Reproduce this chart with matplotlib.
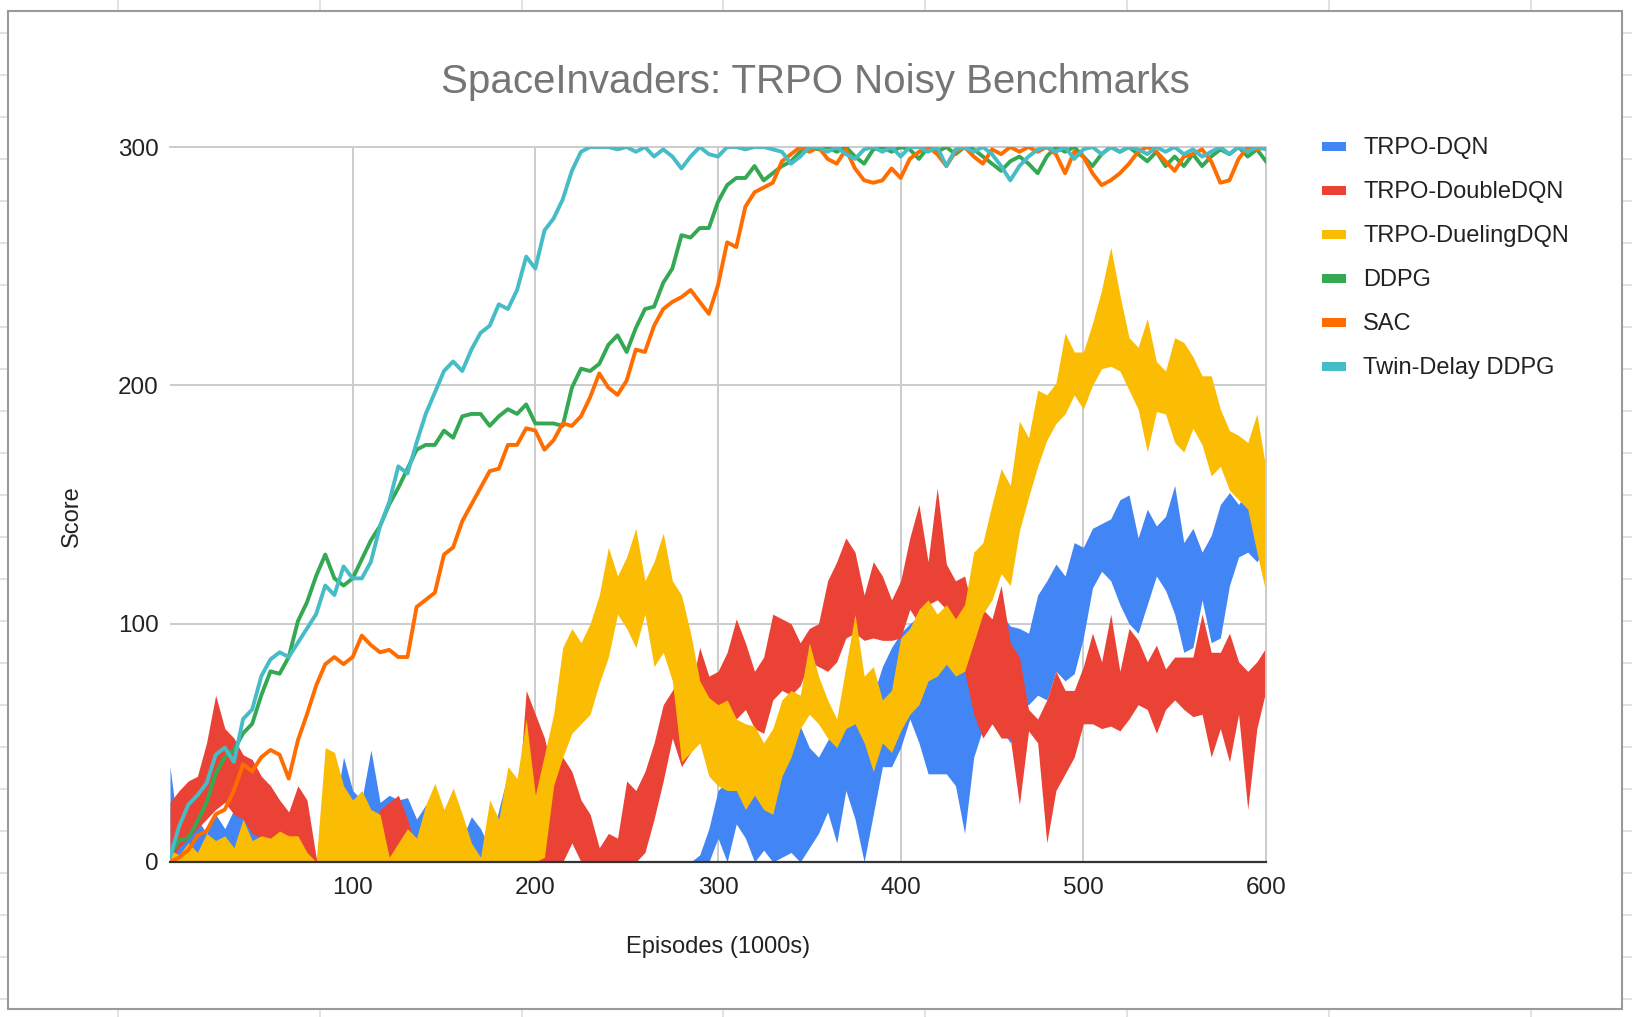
import numpy as np
import matplotlib
matplotlib.use("Agg")
import matplotlib.pyplot as plt
from matplotlib.patches import Rectangle

plt.rcParams["font.family"] = ["Liberation Sans", "DejaVu Sans"]

# ---- data (every 5 episodes, 0..600) ----
episodes = np.arange(0, 601, 5)

# noisy DQN-style runs drawn as bands: (low, high) envelope of the jagged trace
dqn_hi = [40, 10, 15, 18, 12, 20, 14, 22, 27, 20,
          8, 15, 10, 5, 0, 0, 0, 10, 20, 44,
          30, 26, 47, 25, 28, 26, 27, 18, 24, 8,
          12, 6, 10, 19, 14, 6, 22, 37, 12, 8,
          20, 10, 0, 0, 0, 0, 0, 0, 0, 0,
          0, 0, 0, 0, 0, 0, 0, 0, 3, 14,
          30, 34, 30, 42, 38, 36, 42, 46, 52, 57,
          48, 44, 51, 58, 64, 60, 62, 70, 82, 90,
          96, 100, 103, 95, 96, 98, 92, 96, 100, 100,
          102, 104, 99, 98, 96, 112, 118, 125, 120, 134,
          132, 140, 142, 144, 152, 154, 136, 148, 141, 145,
          158, 134, 140, 130, 137, 150, 155, 150, 156, 150,
          140]
dqn_lo = [0] * 60 + [
          10, 0, 16, 10, 0, 5, 0, 2, 4, 0,
          6, 12, 21, 8, 30, 18, 0, 20, 40, 40,
          48, 60, 50, 37, 37, 37, 32, 12, 44, 56,
          58, 56, 50, 68, 66, 70, 68, 80, 76, 79,
          94, 115, 122, 118, 108, 100, 96, 108, 120, 114,
          104, 88, 90, 110, 92, 94, 116, 128, 130, 126,
          132]

double_hi = [25, 30, 34, 36, 50, 70, 56, 52, 45, 43,
             36, 32, 26, 21, 32, 26, 2, 0, 0, 5,
             8, 5, 12, 22, 25, 28, 18, 5, 0, 0,
             0, 0, 0, 0, 0, 5, 0, 5, 20, 72,
             62, 52, 36, 44, 38, 26, 20, 6, 12, 10,
             34, 30, 38, 50, 66, 72, 80, 72, 90, 78,
             80, 88, 102, 92, 80, 86, 104, 102, 100, 92,
             98, 100, 118, 126, 136, 130, 112, 126, 120, 110,
             118, 136, 150, 126, 157, 125, 118, 120, 104, 106,
             102, 116, 92, 86, 64, 60, 68, 80, 72, 72,
             82, 96, 84, 104, 80, 98, 93, 84, 91, 81,
             86, 86, 86, 104, 88, 88, 96, 84, 80, 84,
             90]
double_lo = [0, 6, 10, 14, 18, 22, 25, 20, 18, 12,
             10, 5, 2, 0, 0, 0, 0, 0, 0, 0,
             0, 0, 0, 0, 0, 0, 0, 0, 0, 0,
             0, 0, 0, 0, 0, 0, 0, 0, 0, 0,
             0, 0, 0, 0, 8, 0, 0, 0, 0, 0,
             0, 0, 4, 18, 34, 52, 40, 46, 62, 60,
             58, 66, 60, 64, 56, 54, 68, 72, 70, 74,
             84, 82, 80, 84, 94, 96, 93, 94, 93, 93,
             94, 106, 100, 108, 110, 106, 98, 80, 62, 52,
             58, 52, 52, 24, 55, 50, 8, 30, 37, 44,
             58, 58, 56, 57, 55, 60, 66, 64, 54, 64,
             68, 64, 61, 62, 44, 56, 42, 62, 22, 56,
             72]

dueling_hi = [5, 3, 8, 4, 12, 9, 11, 6, 18, 9,
              11, 10, 13, 11, 11, 4, 0, 48, 46, 32,
              26, 30, 22, 20, 2, 8, 14, 10, 24, 33,
              22, 31, 20, 8, 2, 26, 18, 40, 35, 60,
              28, 45, 62, 90, 98, 92, 100, 112, 132, 120,
              128, 140, 118, 126, 138, 118, 112, 96, 76, 69,
              66, 68, 60, 58, 57, 50, 56, 68, 72, 70,
              92, 78, 68, 60, 82, 104, 78, 82, 68, 72,
              94, 98, 106, 110, 104, 108, 102, 108, 130, 134,
              150, 165, 158, 185, 178, 198, 196, 201, 222, 214,
              214, 226, 240, 258, 238, 220, 216, 228, 210, 206,
              220, 218, 212, 204, 204, 190, 181, 179, 176, 188,
              165]
dueling_lo = [0] * 40 + [
              0, 2, 32, 44, 54, 58, 62, 75, 86, 104,
              98, 90, 104, 82, 88, 76, 42, 46, 50, 36,
              32, 30, 30, 22, 28, 22, 20, 36, 44, 56,
              62, 58, 52, 48, 56, 58, 50, 38, 50, 46,
              55, 62, 66, 76, 78, 83, 78, 80, 92, 104,
              110, 121, 116, 139, 153, 166, 177, 184, 188, 196,
              190, 200, 207, 208, 206, 198, 190, 172, 189, 188,
              176, 172, 182, 175, 162, 166, 156, 152, 148, 130,
              113]

ddpg = [3, 9, 10, 17, 25, 37, 44, 47, 54, 58,
        70, 80, 79, 86, 101, 109, 120, 129, 119, 116,
        119, 127, 135, 141, 150, 157, 165, 173, 175, 175,
        181, 178, 187, 188, 188, 183, 187, 190, 188, 192,
        184, 184, 184, 183, 199, 207, 206, 209, 217, 221,
        214, 224, 232, 233, 243, 249, 263, 262, 266, 266,
        277, 284, 287, 287, 292, 286, 289, 292, 294, 298,
        300, 299, 300, 298, 300, 296, 293, 299, 300, 298,
        300, 299, 295, 300, 298, 300, 297, 300, 299, 296,
        293, 290, 294, 296, 293, 289, 296, 300, 298, 300,
        296, 292, 297, 300, 298, 300, 297, 294, 298, 292,
        296, 292, 297, 292, 296, 299, 297, 300, 296, 299,
        294]

sac = [0, 2, 5, 11, 13, 20, 22, 30, 41, 38,
       44, 47, 45, 35, 51, 62, 74, 83, 86, 83,
       86, 95, 91, 88, 89, 86, 86, 107, 110, 113,
       129, 132, 143, 150, 157, 164, 165, 175, 175, 182,
       181, 173, 177, 184, 183, 187, 195, 205, 199, 196,
       202, 215, 214, 225, 232, 235, 237, 240, 235, 230,
       242, 260, 258, 275, 281, 283, 285, 294, 297, 300,
       298, 300, 295, 293, 299, 291, 286, 285, 286, 291,
       287, 295, 298, 300, 297, 292, 298, 300, 296, 293,
       299, 297, 300, 298, 300, 298, 300, 297, 289, 298,
       296, 289, 284, 286, 289, 293, 298, 300, 298, 294,
       290, 296, 297, 299, 294, 285, 286, 295, 300, 299,
       300]

td3 = [2, 15, 24, 28, 33, 45, 48, 42, 60, 64,
       78, 85, 88, 86, 92, 98, 104, 116, 112, 124,
       119, 119, 126, 141, 151, 166, 163, 176, 188, 197,
       206, 210, 206, 215, 222, 225, 234, 232, 240, 254,
       249, 265, 270, 278, 290, 298, 300, 300, 300, 299,
       300, 298, 300, 296, 299, 296, 291, 296, 300, 297,
       296, 300, 300, 299, 300, 300, 299, 298, 293, 296,
       300, 300, 298, 300, 297, 295, 299, 300, 298, 300,
       296, 300, 300, 298, 300, 292, 299, 300, 298, 300,
       297, 292, 286, 292, 296, 299, 300, 298, 300, 295,
       299, 300, 297, 300, 298, 300, 299, 297, 300, 298,
       300, 297, 299, 296, 298, 300, 297, 300, 298, 300,
       299]

bands = [("TRPO-DQN", dqn_lo, dqn_hi, "#4285F4"),
         ("TRPO-DoubleDQN", double_lo, double_hi, "#EA4335"),
         ("TRPO-DuelingDQN", dueling_lo, dueling_hi, "#FBBC04")]
lines = [("DDPG", ddpg, "#34A853"),
         ("SAC", sac, "#FF6D01"),
         ("Twin-Delay DDPG", td3, "#46BDC6")]

W, H = 1632, 1017
fig = plt.figure(figsize=(W / 100, H / 100), dpi=100)

# spreadsheet backdrop + chart card, in pixel coords
bg = fig.add_axes([0, 0, 1, 1])
bg.set_xlim(0, W)
bg.set_ylim(H, 0)
bg.axis("off")
for x in [118, 320, 522, 723, 925, 1127, 1329, 1531]:
    bg.plot([x, x], [0, H], color="#e2e2e2", lw=1.4, zorder=1)
for y in range(33, H, 42):
    bg.plot([0, W], [y, y], color="#e2e2e2", lw=1.4, zorder=1)
bg.add_patch(Rectangle((8, 11), 1613.5, 997.5, facecolor="white",
                       edgecolor="#9a9a9a", lw=1.5, zorder=3))

bg.text(815, 93, "SpaceInvaders: TRPO Noisy Benchmarks", ha="center",
        va="baseline", fontsize=29, color="#757575", zorder=5)

# legend drawn by hand to match the sheet layout
names = [b[0] for b in bands] + [l[0] for l in lines]
cols = [b[3] for b in bands] + [l[2] for l in lines]
for i, (n, c) in enumerate(zip(names, cols)):
    y = 146.3 + 44 * i
    bg.add_patch(Rectangle((1322, y - 4.5), 24, 9, facecolor=c, lw=0, zorder=5))
    bg.text(1363, y + 8, n, ha="left", va="baseline", fontsize=17,
            color="#222222", zorder=5)

# main plot
ax = fig.add_axes([170 / W, 1 - 862 / H, 1096 / W, 715 / H])
ax.set_facecolor("white")
for name, lo, hi, c in bands:
    ax.fill_between(episodes, lo, hi, color=c, linewidth=0, zorder=2)
for name, vals, c in lines:
    ax.plot(episodes, vals, color=c, lw=2.8, zorder=3)

ax.set_xlim(0, 600)
ax.set_ylim(0, 300)
ax.set_xticks([100, 200, 300, 400, 500, 600])
ax.set_yticks([0, 100, 200, 300])
ax.grid(True, color="#cccccc", lw=1.4)
ax.set_axisbelow(True)
ax.tick_params(length=0, labelsize=17.5, labelcolor="#222222")
ax.tick_params(axis="x", pad=11)
ax.tick_params(axis="y", pad=8)
ax.spines["left"].set_visible(False)
for s in ("top", "right"):
    ax.spines[s].set_color("#cccccc")
    ax.spines[s].set_linewidth(1.4)
ax.spines["bottom"].set_color("#333333")
ax.spines["bottom"].set_linewidth(1.6)
ax.spines["bottom"].set_zorder(10)

ax.set_xlabel("Episodes (1000s)", fontsize=17, color="#222222")
ax.xaxis.set_label_coords(0.5, (862 - 953) / 715)
ax.xaxis.label.set_va("baseline")
ax.set_ylabel("Score", fontsize=17, color="#222222")
ax.yaxis.set_label_coords((78 - 170) / 1096, (862 - 516) / 715)
ax.yaxis.label.set_va("baseline")

fig.savefig("out.png", dpi=100, facecolor="white")
